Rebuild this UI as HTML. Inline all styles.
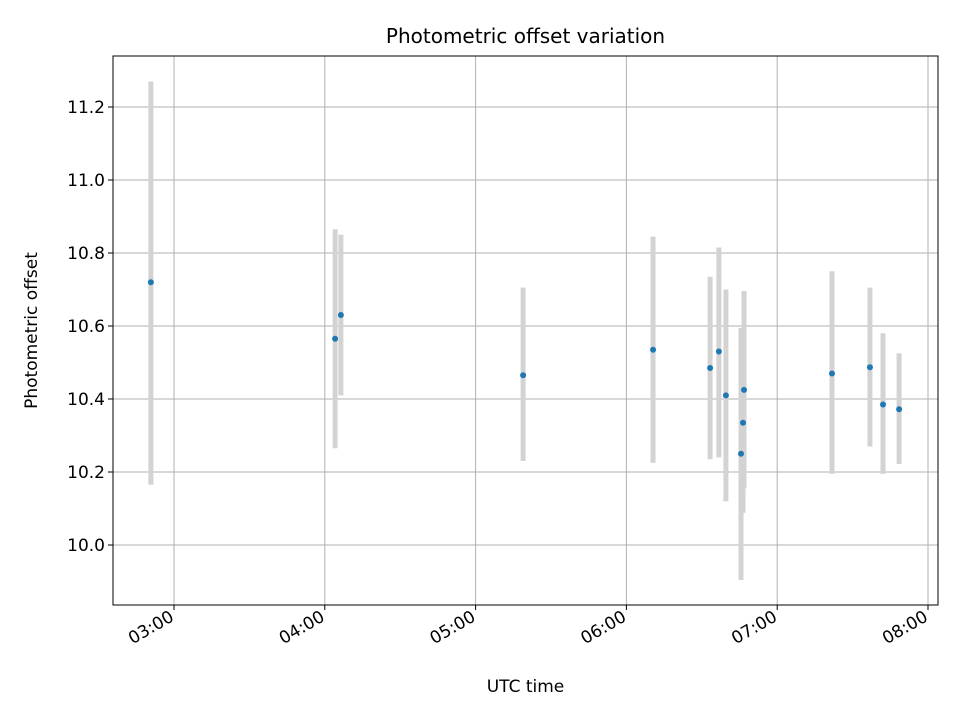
<!DOCTYPE html>
<html><head><meta charset="utf-8"><style>body{margin:0;background:#fff}svg{font-family:"DejaVu Sans","Liberation Sans",sans-serif}</style></head>
<body>
<svg id="c" width="960" height="720" xmlns="http://www.w3.org/2000/svg"></svg>
<script>
const timesMin=[170.8,244.1,246.4,318.9,370.6,393.3,396.8,399.6,406.8,406.4,405.6,441.8,456.9,462.1,468.5];
const offsets=[10.72,10.565,10.63,10.465,10.535,10.485,10.53,10.41,10.425,10.335,10.25,10.47,10.487,10.385,10.372];
const lows=[10.165,10.265,10.41,10.23,10.225,10.235,10.24,10.12,10.155,10.088,9.904,10.195,10.27,10.195,10.222];
const highs=[11.27,10.865,10.85,10.705,10.845,10.735,10.815,10.70,10.696,10.59,10.595,10.75,10.705,10.58,10.525];
const xTicks=[180,240,300,360,420,480];
const xTickLabels=["03:00","04:00","05:00","06:00","07:00","08:00"];
const yTicks=[10.0,10.2,10.4,10.6,10.8,11.0,11.2];
const L=113,R=938,T=56,B=605;
const X=m=>174+(m-180)*150.8/60;
const Y=v=>545-(v-10.0)*365;
const svg=document.getElementById('c');const NS="http://www.w3.org/2000/svg";
function mk(t,a,p){const e=document.createElementNS(NS,t);for(const k in a)e.setAttribute(k,a[k]);(p||svg).appendChild(e);return e;}
const grid=mk('g',{});


xTicks.forEach((m,i)=>{const x=X(m);
const gl=mk('line',{x1:x,x2:x,y1:T,y2:B,stroke:'#b0b0b0','stroke-width':1},grid);


mk('line',{x1:x,x2:x,y1:B,y2:B+5,stroke:'#000'});
const t=mk('text',{x:x+1,y:B+15,'font-size':17,'text-anchor':'end',transform:`rotate(-30 ${x+1} ${B+15})`});t.textContent=xTickLabels[i];

});
yTicks.forEach(v=>{const y=Y(v);
const gl=mk('line',{x1:L,x2:R,y1:y,y2:y,stroke:'#b0b0b0','stroke-width':1},grid);


mk('line',{x1:L-5,x2:L,y1:y,y2:y,stroke:'#000'});
const t=mk('text',{x:L-8,y:y+6,'font-size':17,'text-anchor':'end'});t.textContent=v.toFixed(1);

});
timesMin.forEach((m,i)=>{const x=X(m);
const e=mk('line',{x1:x,x2:x,y1:Y(highs[i]),y2:Y(lows[i]),stroke:'#d3d3d3','stroke-width':5});

});
timesMin.forEach((m,i)=>{
const c=mk('circle',{cx:X(m),cy:Y(offsets[i]),r:3,fill:'#1f77b4'});

});
const fr=mk('rect',{x:L,y:T,width:R-L,height:B-T,fill:'none',stroke:'#000','stroke-width':1});


const ti=mk('text',{x:(L+R)/2,y:43,'font-size':20,'text-anchor':'middle'});ti.textContent='Photometric offset variation';


const xl=mk('text',{x:(L+R)/2,y:692,'font-size':17,'text-anchor':'middle'});xl.textContent='UTC time';


const yl=mk('text',{x:37,y:(T+B)/2,'font-size':17,'text-anchor':'middle',transform:`rotate(-90 37 ${(T+B)/2})`});yl.textContent='Photometric offset';


</script>
</body></html>
